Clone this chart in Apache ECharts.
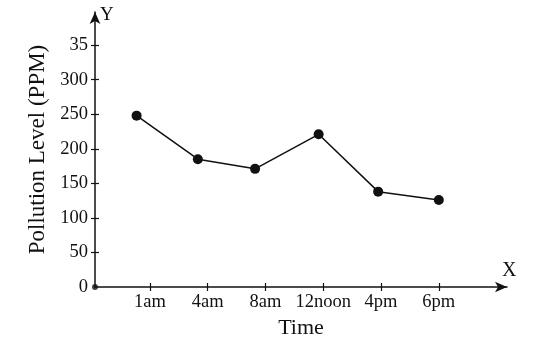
<!DOCTYPE html>
<html>
<head>
<meta charset="utf-8">
<script src="https://cdn.jsdelivr.net/npm/echarts@6/dist/echarts.min.js"></script>
<style>
  html, body { margin: 0; padding: 0; background: #fff; }
  #chart { width: 547px; height: 353px; }
</style>
</head>
<body>
<div id="chart"></div>
<script>
// time labels and where each reading sits on the time axis
const times = ["1am", "4am", "8am", "12noon", "4pm", "6pm"];
const timeX = [0.77, 1.83, 2.82, 3.92, 4.95, 6.0];
const pollution = [248, 185, 171, 221, 138, 126];

// y tick labels (the top one is cut off in the original)
const yTicks = [0, 50, 100, 150, 200, 250, 300, 350];
const yTickText = ["0", "50", "100", "150", "200", "250", "300", "35"];
const xTicks = [1, 2, 3, 4, 5, 6];

const font = '"Liberation Serif", "Times New Roman", serif';
const ink = "#111";
const xMin = 0.05, xMax = 7.18, yMax = 398;

const chart = echarts.init(document.getElementById("chart"));

const xBase = {
  type: "value", min: xMin, max: xMax, gridIndex: 0,
  splitLine: { show: false },
};
const yBase = {
  type: "value", min: 0, max: yMax, gridIndex: 0,
  splitLine: { show: false },
};

chart.setOption({
  animation: false,
  backgroundColor: "#fff",
  grid: { left: 95, right: 40, top: 12, bottom: 66 },
  xAxis: [
    {
      ...xBase,
      name: "Time",
      nameLocation: "middle",
      nameGap: 29,
      nameTextStyle: { fontFamily: font, fontSize: 22, color: ink },
      axisLine: { lineStyle: { color: ink, width: 1.5 }, symbol: ["none", "arrow"], symbolSize: [8, 12] },
      axisTick: { inside: false, length: 4, lineStyle: { color: ink, width: 1.2 }, customValues: xTicks },
      axisLabel: {
        fontFamily: font, fontSize: 18.5, color: ink, margin: 6,
        customValues: xTicks,
        formatter: (v) => times[Math.round(v) - 1] || "",
      },
    },
    {
      ...xBase,
      position: "bottom",
      axisLine: { show: false },
      axisTick: { inside: true, length: 4, lineStyle: { color: ink, width: 1.2 }, customValues: xTicks },
      axisLabel: { show: false },
    },
  ],
  yAxis: [
    {
      ...yBase,
      name: "Pollution Level (PPM)",
      nameLocation: "middle",
      nameGap: 42,
      nameTextStyle: { fontFamily: font, fontSize: 23, color: ink },
      axisLine: { lineStyle: { color: ink, width: 1.5 }, symbol: ["none", "arrow"], symbolSize: [8, 12] },
      axisTick: { inside: false, length: 4, lineStyle: { color: ink, width: 1.2 }, customValues: yTicks.slice(1) },
      axisLabel: {
        fontFamily: font, fontSize: 18.5, color: ink, margin: 7,
        customValues: yTicks,
        formatter: (v) => yTickText[yTicks.indexOf(v)] ?? "",
      },
    },
    {
      ...yBase,
      position: "left",
      axisLine: { show: false },
      axisTick: { inside: true, length: 4, lineStyle: { color: ink, width: 1.2 }, customValues: yTicks.slice(1) },
      axisLabel: { show: false },
    },
  ],
  graphic: [
    { type: "text", left: 100, top: 6, style: { text: "Y", font: "19px " + font, fill: ink } },
    { type: "text", left: 502, top: 261, style: { text: "X", font: "20px " + font, fill: ink } },
  ],
  series: [
    {
      type: "line",
      data: timeX.map((x, i) => [x, pollution[i]]),
      symbol: "circle",
      symbolSize: 10,
      lineStyle: { color: ink, width: 1.5 },
      itemStyle: { color: ink },
    },
    {
      type: "scatter",
      data: [[xMin, 0]],
      symbolSize: 6,
      itemStyle: { color: ink },
    },
  ],
});
</script>
</body>
</html>
